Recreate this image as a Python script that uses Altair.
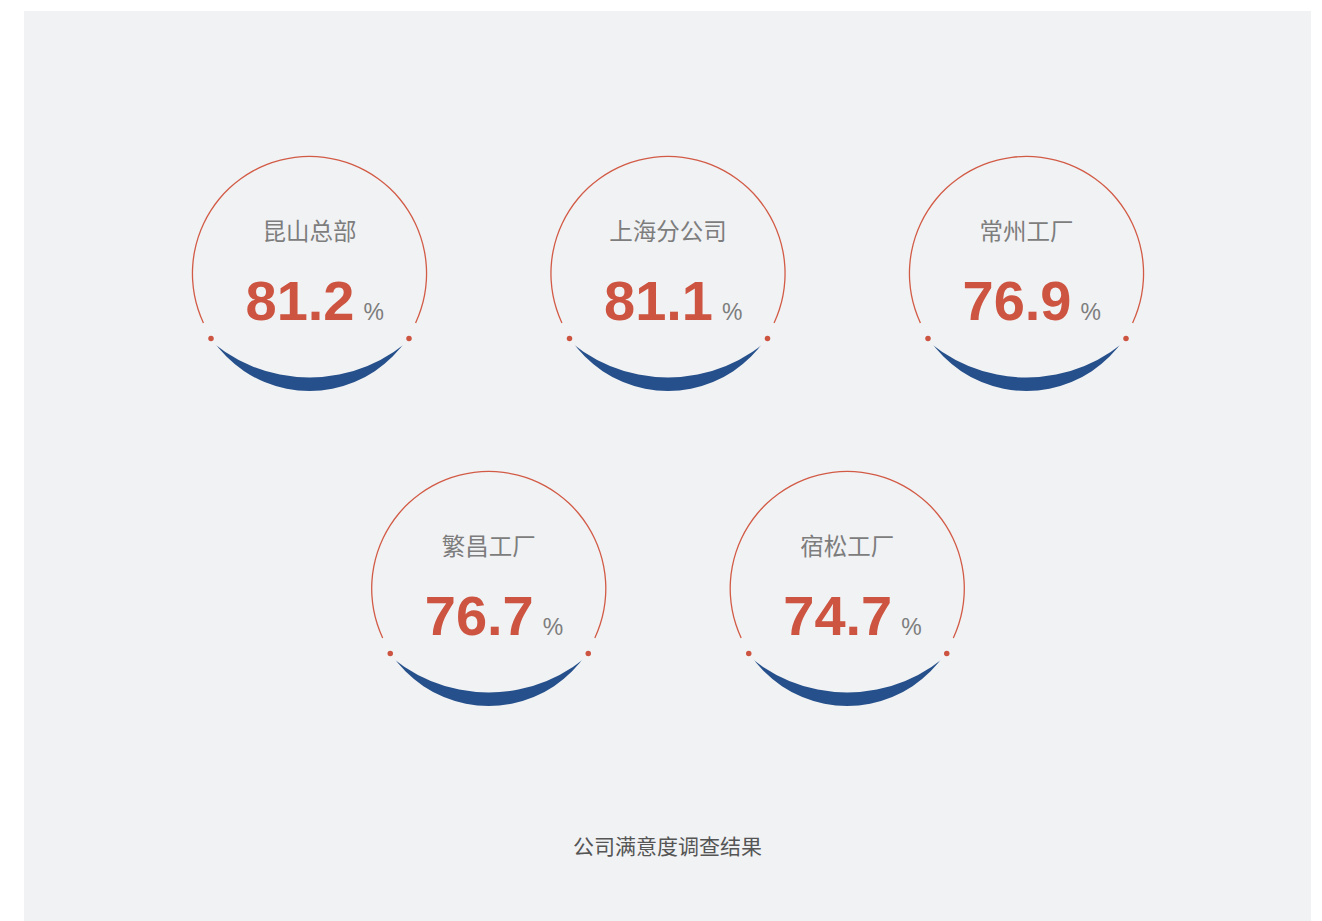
import math
import altair as alt
import pandas as pd

# ---- data ----
names = ["昆山总部", "上海分公司", "常州工厂", "繁昌工厂", "宿松工厂"]
values = [81.2, 81.1, 76.9, 76.7, 74.7]
cols = [0, 1, 2, 0.5, 1.5]
rows = [0, 0, 0, 1, 1]
title_text = "公司满意度调查结果"

df = pd.DataFrame({"name": names, "value": values, "col": cols, "row": rows})

# ---- style ----
BG = "#f1f2f4"
BLUE = "#26508b"
RED = "#cc5440"
RING = "#d25b46"
GRAY = "#7d7d7d"
CJK = "Noto Sans CJK SC"
NUM_FONT = "Liberation Sans"

W, H = 1287, 912
R_OUT = 117.5
COVER_R = 151.5
COVER_SHIFT = -47.5

xs = alt.Scale(domain=[-285.5 / 358.5, (W - 285.5) / 358.5], nice=False, zero=False)
ys = alt.Scale(domain=[-262.5 / 315, (H - 262.5) / 315], nice=False, zero=False, reverse=True)

base = alt.Chart(df).encode(
    x=alt.X("col:Q", scale=xs, axis=None),
    y=alt.Y("row:Q", scale=ys, axis=None),
)

# Vega circle symbol: radius = sqrt(size) / 2
blue = base.mark_circle(size=(2 * R_OUT) ** 2, color=BLUE, opacity=1)
cover = base.mark_circle(size=(2 * COVER_R) ** 2, color=BG, opacity=1, yOffset=COVER_SHIFT)
ring = base.mark_arc(
    radius=R_OUT + 0.2, radius2=R_OUT - 1.1,
    theta=math.radians(245), theta2=math.radians(475), color=RING,
)
dot_l = base.mark_circle(size=30, color=RED, opacity=1, xOffset=-98.5, yOffset=65)
dot_r = base.mark_circle(size=30, color=RED, opacity=1, xOffset=99.5, yOffset=65)
name_t = base.mark_text(
    font=CJK, fontSize=23.5, color=GRAY, baseline="middle", align="center", dy=-41
).encode(text="name:N")
val_t = base.mark_text(
    font=NUM_FONT, fontSize=56, fontWeight="bold", color=RED,
    baseline="alphabetic", align="right", dx=45, dy=46,
).encode(text=alt.Text("value:Q", format=".1f"))
pct_t = base.mark_text(
    font=NUM_FONT, fontSize=23, color=GRAY, baseline="alphabetic", align="left",
    dx=54, dy=46, text="%",
)

chart = alt.layer(blue, cover, ring, dot_l, dot_r, name_t, val_t, pct_t).properties(
    width=W,
    height=H,
    padding={"left": 16, "top": 3, "right": 0, "bottom": 0},
    background="#ffffff",
    title=alt.TitleParams(
        text=title_text, orient="bottom", anchor="middle", offset=-86,
        font=CJK, fontSize=21, fontWeight="normal", color="#555555",
    ),
).configure_view(fill=BG, stroke=None)

chart.save("out.html", embed_options={"renderer": "svg", "actions": False})
